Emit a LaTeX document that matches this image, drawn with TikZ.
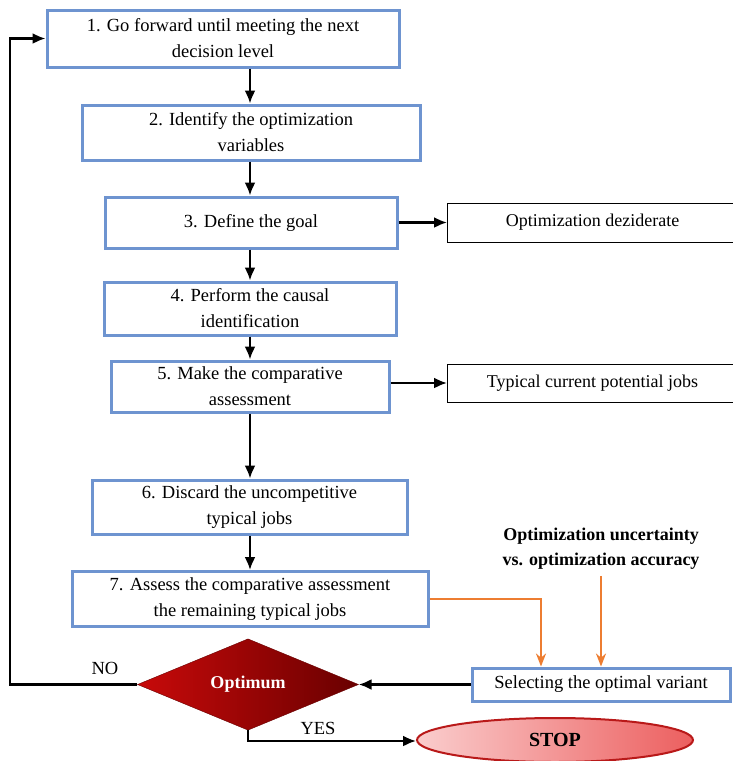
\documentclass[tikz,border=0pt]{standalone}
\usepackage{fontspec}
\setmainfont{Liberation Serif}
\usetikzlibrary{shapes.geometric,arrows.meta}
\definecolor{boxblue}{RGB}{110,148,208}
\definecolor{arrorange}{RGB}{237,125,49}
\definecolor{redA}{RGB}{200,10,10}
\definecolor{redB}{RGB}{105,0,0}
\definecolor{pinkA}{RGB}{250,205,205}
\definecolor{pinkB}{RGB}{236,95,95}
\definecolor{stopborder}{RGB}{185,25,25}
\tikzset{
  stepbox/.style={draw=boxblue,line width=3pt,fill=white,align=center,inner sep=2pt,
    font=\fontsize{18.5}{26}\selectfont},
  sidebox/.style={draw=black,line width=1pt,fill=white,align=center,inner sep=2pt,
    font=\fontsize{18}{26}\selectfont},
  flow/.style={draw=black,line width=2.2pt,-{Latex[length=13pt,width=11pt]}},
  loopline/.style={draw=black,line width=2.2pt},
  orangeflow/.style={draw=arrorange,line width=2.4pt,-{Stealth[length=13pt,width=10pt]}},
  lbl/.style={font=\fontsize{18.5}{20}\selectfont,inner sep=0pt}
}
\begin{document}
\begin{tikzpicture}[x=1pt,y=-1pt]
\useasboundingbox (0,0) rectangle (732,761);
\coordinate (col) at (250,0);
\coordinate (orx) at (541,0);
\coordinate (loopx) at (10,0);
\coordinate (yesy) at (0,741);

\node[stepbox,minimum width=352,minimum height=57] (b1) at (223,38.5)
  {1. Go forward until meeting the next\\decision level};
\node[stepbox,minimum width=338,minimum height=55] (b2) at (251,132.5)
  {2. Identify the optimization\\variables};
\node[stepbox,minimum width=292,minimum height=51] (b3) at (251,222.5)
  {3. Define the goal};
\node[sidebox,minimum width=290,minimum height=39,anchor=west] (d1) at (447,222.5)
  {Optimization deziderate};
\node[stepbox,minimum width=292,minimum height=53] (b4) at (250,308.5)
  {4. Perform the causal\\identification};
\node[stepbox,minimum width=278,minimum height=51] (b5) at (250,386.5)
  {5. Make the comparative\\assessment};
\node[sidebox,minimum width=290,minimum height=38,anchor=west] (d2) at (447,383)
  {Typical current potential jobs};
\node[stepbox,minimum width=315,minimum height=54] (b6) at (249.5,507)
  {6. Discard the uncompetitive\\typical jobs};
\node[stepbox,minimum width=356,minimum height=55] (b7) at (250,599)
  {7. Assess the comparative assessment\\the remaining typical jobs};
\node[align=center,font=\fontsize{18}{25}\selectfont\bfseries,inner sep=0pt] (unc) at (601,549)
  {Optimization uncertainty\\vs. optimization accuracy};
\node[stepbox,minimum width=258,minimum height=33] (sel) at (601,684.5)
  {Selecting the optimal variant};
\node[diamond,minimum width=221,minimum height=77,inner sep=0pt,
  left color=redA,right color=redB,draw=redB,line width=0.4pt,
  text=white,font=\fontsize{18}{20}\selectfont\bfseries] (opt) at (248,684.5) {Optimum};
\node[ellipse,minimum width=276,minimum height=44,inner sep=0pt,
  left color=pinkA,right color=pinkB,draw=stopborder,line width=2pt,
  font=\fontsize{20}{22}\selectfont\bfseries] (stop) at (555,740) {STOP};

\draw[flow] (b1.south -| col) -- (b2.north -| col);
\draw[flow] (b2.south -| col) -- (b3.north -| col);
\draw[flow] (b3.south -| col) -- (b4.north -| col);
\draw[flow] (b4.south -| col) -- (b5.north -| col);
\draw[flow] (b5.south -| col) -- (b6.north -| col);
\draw[flow] (b6.south -| col) -- (b7.north -| col);
\draw[flow] (b3.east) -- (d1.west);
\draw[flow] (b5.east |- d2.west) -- (d2.west);

\draw[orangeflow] (b7.east) -- (b7.east -| orx) -- (sel.north -| orx);
\draw[orangeflow] ([yshift=-6pt]unc.south) -- (sel.north);

\draw[flow] (sel.west) -- (opt.east);
\draw[loopline,-{Latex[length=13pt,width=11pt]}] (opt.west) -- (opt.west -| loopx) -- (b1.west -| loopx) -- (b1.west);
\node[lbl] (no) at (105,668) {NO};
\draw[loopline,-{Latex[length=13pt,width=11pt]}] (opt.south) -- (opt.south |- yesy) -- (stop.west |- yesy);
\node[lbl] (yes) at (318,728) {YES};
\end{tikzpicture}
\end{document}
